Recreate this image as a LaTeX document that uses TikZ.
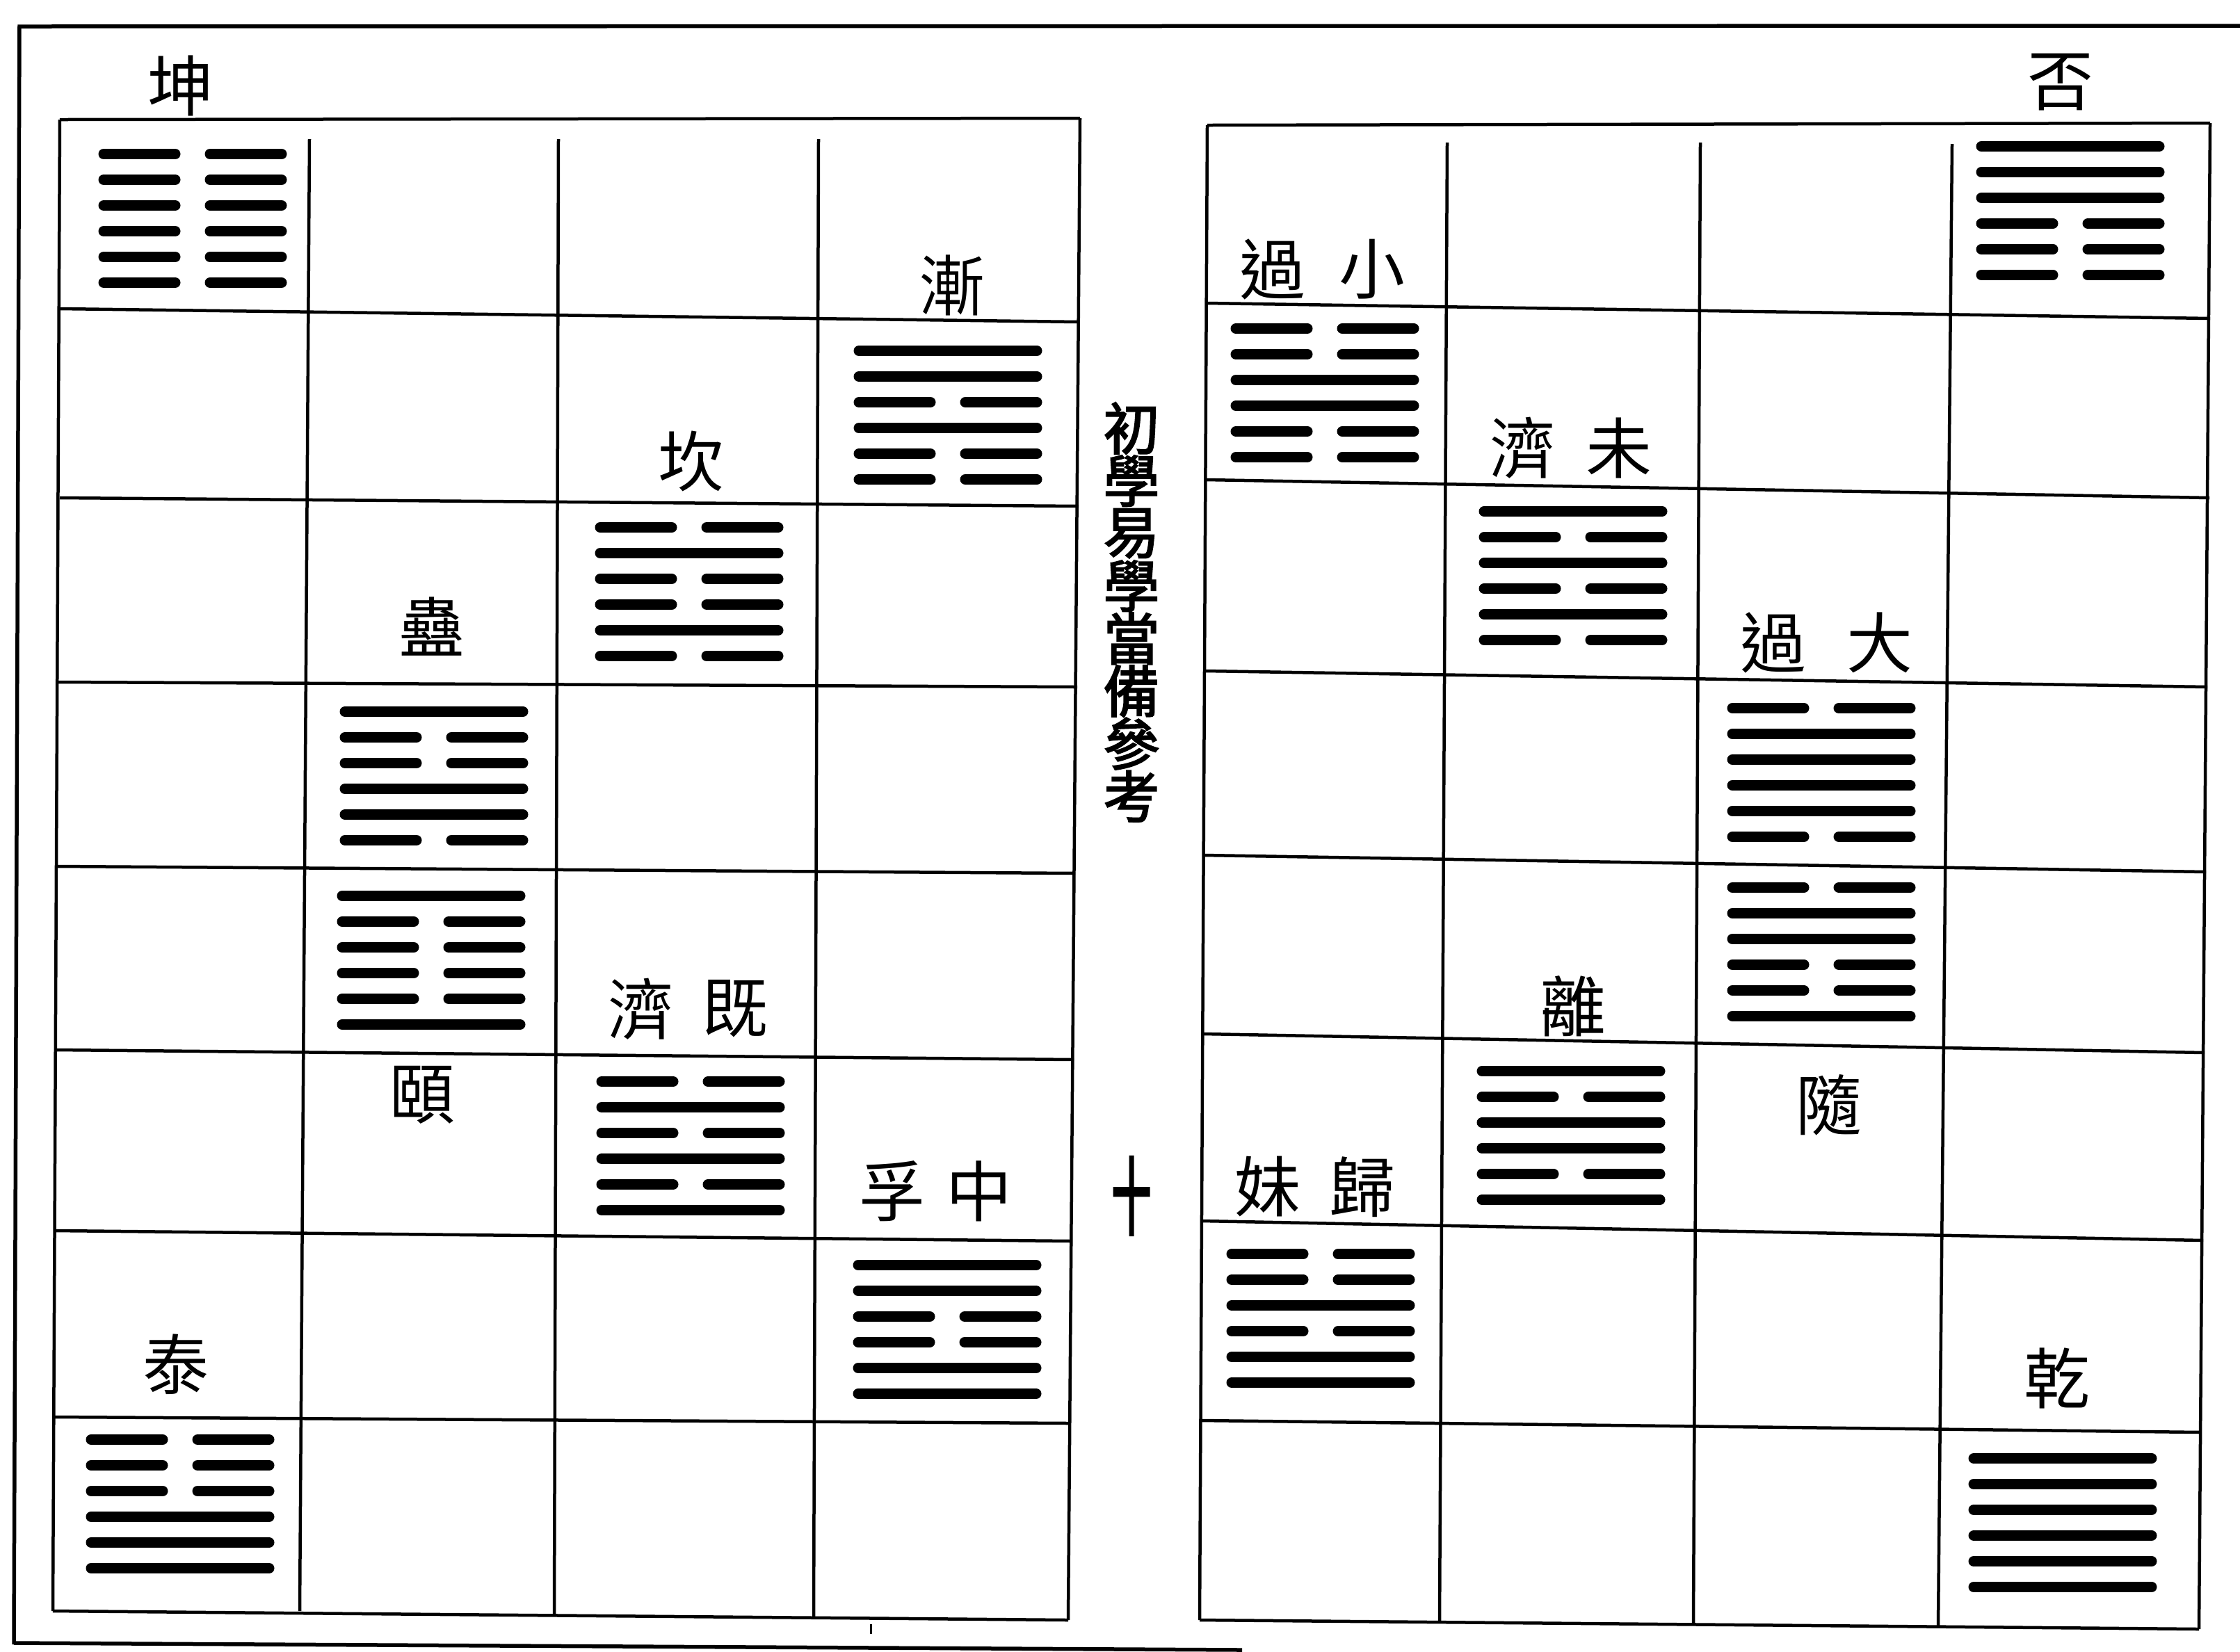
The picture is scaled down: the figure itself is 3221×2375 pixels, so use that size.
\documentclass[tikz,border=0pt]{standalone}
\usepackage{fontspec}
\newfontfamily\cjk{Noto Sans CJK TC}
\newfontfamily\cjkb[FakeBold=2.5]{Noto Sans CJK TC}
\newfontfamily\cjkh[FakeBold=4]{Noto Sans CJK TC}
\newcommand{\hexgram}[3]{%
  \foreach \b [count=\i from 0] in {#3} {%
    \pgfmathsetmacro\yy{#2-92.5+37*\i}%
    \ifnum\b=1
      \draw[yao] (#1-128,\yy) -- (#1+128,\yy);
    \else
      \draw[yao] (#1-128,\yy) -- (#1-25,\yy);
      \draw[yao] (#1+25,\yy) -- (#1+128,\yy);
    \fi
  }%
}
\begin{document}
\begin{tikzpicture}[x=0.1mm,y=-0.1mm,
  gridline/.style={line width=0.45mm,black},
  frameline/.style={line width=0.55mm,black},
  yao/.style={line width=1.5mm,line cap=round,black},
  lbl/.style={font=\cjk\fontsize{27}{27}\selectfont,inner sep=0pt},
  ttl/.style={font=\cjkb\fontsize{23}{23}\selectfont,inner sep=0pt},
  marksty/.style={font=\cjkh\fontsize{23}{23}\selectfont,inner sep=0pt}]
\useasboundingbox[fill=white] (0,0) rectangle (3221,2375);

% outer frame
\draw[frameline] (3221,37) -- (28,38) -- (20,2365);
\draw[frameline] (20,2363) -- (1786,2373);
\draw[line width=0.3mm] (1252,2336) -- (1252,2350);

% ---------- left grid ----------
\draw[gridline] (86,172) -- (1553,170);
\draw[gridline] (86,444) -- (1551,463);
\draw[gridline] (86,716) -- (1551,728);
\draw[gridline] (84,981) -- (1549,988);
\draw[gridline] (83,1246) -- (1546,1256);
\draw[gridline] (82,1510) -- (1544,1524);
\draw[gridline] (80,1770) -- (1541,1785);
\draw[gridline] (79,2038) -- (1539,2047);
\draw[gridline] (76,2317) -- (1536,2330);
\draw[gridline] (86,172) -- (76,2317);
\draw[gridline] (445,200) -- (431,2317);
\draw[gridline] (803,200) -- (797,2322);
\draw[gridline] (1177,200) -- (1170,2325);
\draw[gridline] (1553,170) -- (1536,2330);

% ---------- right grid ----------
\draw[gridline] (1736,180) -- (3178,177);
\draw[gridline] (1736,436) -- (3178,458);
\draw[gridline] (1735,690) -- (3177,716);
\draw[gridline] (1734,965) -- (3174,988);
\draw[gridline] (1732,1230) -- (3172,1254);
\draw[gridline] (1731,1487) -- (3170,1514);
\draw[gridline] (1729,1756) -- (3168,1784);
\draw[gridline] (1728,2043) -- (3165,2060);
\draw[gridline] (1725,2330) -- (3162,2343);
\draw[gridline] (1736,180) -- (1725,2330);
\draw[gridline] (2081,205) -- (2070,2333);
\draw[gridline] (2445,205) -- (2435,2336);
\draw[gridline] (2807,207) -- (2787,2339);
\draw[gridline] (3178,177) -- (3162,2343);

% ---------- hexagrams (top line first) ----------
\hexgram{277}{314}{0,0,0,0,0,0}
\hexgram{1363}{597}{1,1,0,1,0,0}
\hexgram{991}{851}{0,1,0,0,1,0}
\hexgram{624}{1116}{1,0,0,1,1,0}
\hexgram{620}{1381}{1,0,0,0,0,1}
\hexgram{993}{1648}{0,1,0,1,0,1}
\hexgram{1362}{1912}{1,1,0,0,1,1}
\hexgram{259}{2163}{0,0,0,1,1,1}
\hexgram{2977}{303}{1,1,1,0,0,0}
\hexgram{1905}{565}{0,0,1,1,0,0}
\hexgram{2262}{828}{1,0,1,0,1,0}
\hexgram{2619}{1111}{0,1,1,1,1,0}
\hexgram{2619}{1369}{0,1,1,0,0,1}
\hexgram{2259}{1633}{1,0,1,1,0,1}
\hexgram{1899}{1896}{0,0,1,0,1,1}
\hexgram{2966}{2190}{1,1,1,1,1,1}

% ---------- labels ----------
\node[lbl] (kun) at (260,123) {坤};
\node[lbl] (jian) at (1369,410) {漸};
\node[lbl] (kan) at (994,663) {坎};
\node[lbl] (gu) at (621,901) {蠱};
\node[lbl] (yi) at (607,1575) {頤};
\node[lbl] (ji1) at (922,1451) {濟};
\node[lbl] (ji2) at (1057,1451) {既};
\node[lbl] (fu) at (1283,1713) {孚};
\node[lbl] (zhong) at (1408,1713) {中};
\node[lbl] (tai) at (253,1962) {泰};
\node[lbl] (pi) at (2963,118) {否};
\node[lbl] (guo1) at (1830,387) {過};
\node[lbl] (xiao) at (1973,387) {小};
\node[lbl] (ji3) at (2190,644) {濟};
\node[lbl] (wei) at (2328,644) {未};
\node[lbl] (guo2) at (2550,924) {過};
\node[lbl] (da) at (2703,924) {大};
\node[lbl] (li) at (2262,1447) {離};
\node[lbl] (sui) at (2630,1589) {隨};
\node[lbl] (mei) at (1823,1707) {妹};
\node[lbl] (gui) at (1959,1707) {歸};
\node[lbl] (qian) at (2958,1982) {乾};

% ---------- centre column ----------
\foreach \c [count=\i] in {初,學,易,學,當,備,參,考}
  \node[ttl] (t\i) at (1627,{616+75.6*(\i-1)}) {\c};
\node[marksty,xscale=0.7,yscale=1.5] (mark) at (1627,1720) {十};
\end{tikzpicture}
\end{document}
